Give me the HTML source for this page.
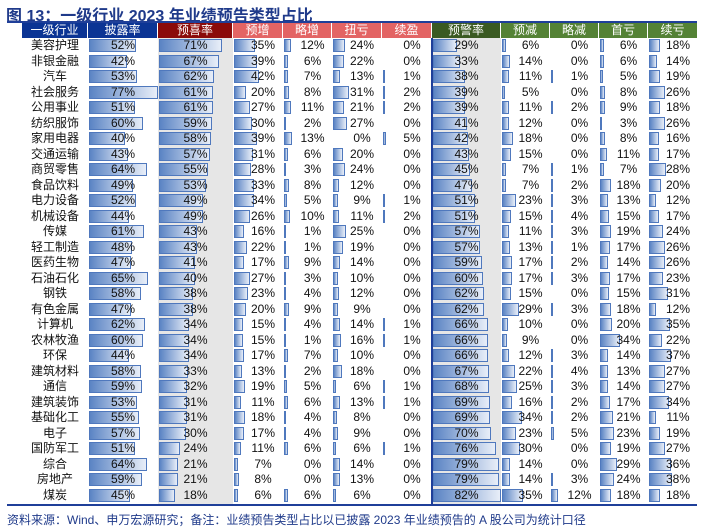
<!DOCTYPE html>
<html><head><meta charset="utf-8"><style>
body{margin:0;background:#fff;width:704px;height:529px;position:relative;overflow:hidden;font-family:"Liberation Sans","Noto Sans CJK SC",sans-serif}
.a{position:absolute;box-sizing:border-box}
.h{color:#fff;font-size:12px;text-align:center;line-height:15px;height:15px;top:23px}
.c{font-size:12px;line-height:15px;height:15px;color:#111;text-align:center}
.bar{height:13px;background:linear-gradient(90deg,#5b84c4,#e8eef8);border:1px solid #4f78bd}
</style></head><body>
<div class="a" style="left:6px;top:2px;font-size:16px;font-weight:bold;color:#1f3a8a;white-space:nowrap">图 13：一级行业 2023 年业绩预告类型占比</div>
<div class="a" style="left:7px;top:21px;width:690px;height:2px;background:#1f3f99"></div>
<div class="a" style="left:158px;top:38px;width:75px;height:466px;background:#e6e6e6"></div>
<div class="a" style="left:432px;top:38px;width:69px;height:466px;background:#e6e6e6"></div>
<div class="a" style="left:431px;top:38px;width:2px;height:466px;background:#1f3f99"></div>
<div class="a" style="left:7px;top:504px;width:690px;height:2px;background:#1f3f99"></div>
<div class="a" style="left:7px;top:511px;font-size:12px;color:#1f3a8a;white-space:nowrap">资料来源：Wind、申万宏源研究；备注：业绩预告类型占比以已披露 2023 年业绩预告的 A 股公司为统计口径</div>
<div id="t"></div>
<script>
const industries=["美容护理","非银金融","汽车","社会服务","公用事业","纺织服饰","家用电器","交通运输","商贸零售","食品饮料","电力设备","机械设备","传媒","轻工制造","医药生物","石油石化","钢铁","有色金属","计算机","农林牧渔","环保","建筑材料","通信","建筑装饰","基础化工","电子","国防军工","综合","房地产","煤炭"];
const disclose=[52,42,53,77,51,60,40,43,64,49,52,44,61,48,47,65,58,47,62,60,44,58,59,53,55,57,51,64,59,45];
const positive=[71,67,62,61,61,59,58,57,55,53,49,49,43,43,41,40,38,38,34,34,34,33,32,31,31,30,24,21,21,18];
const preInc=[35,39,42,20,27,30,39,31,28,33,34,26,16,22,17,27,23,20,15,15,17,13,19,11,18,17,11,7,8,6];
const slightInc=[12,6,7,8,11,2,13,6,3,8,5,10,1,1,9,3,4,9,4,1,7,2,5,6,4,4,6,0,0,6];
const turnProfit=[24,22,13,31,21,27,0,20,24,12,9,11,25,19,14,10,12,9,14,16,10,18,6,13,8,9,6,14,13,6];
const contProfit=[0,0,1,2,2,0,5,0,0,0,1,2,0,0,0,0,0,0,1,1,0,0,1,1,0,0,1,0,0,0];
const warning=[29,33,38,39,39,41,42,43,45,47,51,51,57,57,59,60,62,62,66,66,66,67,68,69,69,70,76,79,79,82];
const preDec=[6,14,11,5,11,12,18,15,7,7,23,15,11,13,17,17,15,29,10,9,12,22,25,16,34,23,30,14,14,35];
const slightDec=[0,0,1,0,2,0,0,0,1,2,3,4,3,1,2,3,0,3,0,0,3,4,3,2,2,5,0,0,3,12];
const firstLoss=[6,6,5,8,9,3,8,11,7,18,13,15,19,17,14,17,15,18,20,34,14,13,14,17,21,23,19,29,24,18];
const contLoss=[18,14,19,26,18,26,16,17,28,20,12,17,24,26,26,23,31,12,35,22,37,27,27,34,11,19,27,36,38,18];
const headers=["一级行业","披露率","预喜率","预增","略增","扭亏","续盈","预警率","预减","略减","首亏","续亏"];
const series=[disclose,positive,preInc,slightInc,turnProfit,contProfit,warning,preDec,slightDec,firstLoss,contLoss];
const names=["disclose","positive","pre-increase","slight-increase","turn-profit","continued-profit","warning","pre-decrease","slight-decrease","first-loss","continued-loss"];
const colX=[22,88,158,233,283,332,382,432,501,550,599,648,698];
const hColors=["#0b3494","#0b3494","#8b0a0a","#e36464","#e36464","#e36464","#e36464","#3a5a22","#548235","#548235","#548235","#548235"];
const scale=[0.9,0.89,0.6,0.6,0.5,0.6,0.83,0.6,0.6,0.6,0.6];
const T=document.getElementById('t');
function mk(cls,st,txt){const d=document.createElement('div');d.className='a '+cls;d.style.cssText=st;if(txt!=null)d.textContent=txt;T.appendChild(d);return d;}
const rowY=i=>38+i*15.5;
headers.forEach((h,j)=>{
 const d=mk('h',`left:${colX[j]}px;width:${colX[j+1]-colX[j]-1}px;background:${hColors[j]}`,h);
 
 
});
industries.forEach((n,i)=>{
 const y=rowY(i);
 const d=mk('c',`left:22px;top:${y}px;width:66px`,n);
 
 
 series.forEach((s,j)=>{
  const x=colX[j+1];const v=s[i];
  if(v>0){
   const b=mk('bar',`left:${x+1}px;top:${y+1}px;width:${Math.max(2,v*scale[j])}px`);
   
   
  }
  const t=mk('c',`left:${x}px;top:${y}px;width:${colX[j+2]-x}px;padding-left:${j<2||j==6?0:10}px`,v+'%');
  
  
 });
});
</script>
</body></html>
